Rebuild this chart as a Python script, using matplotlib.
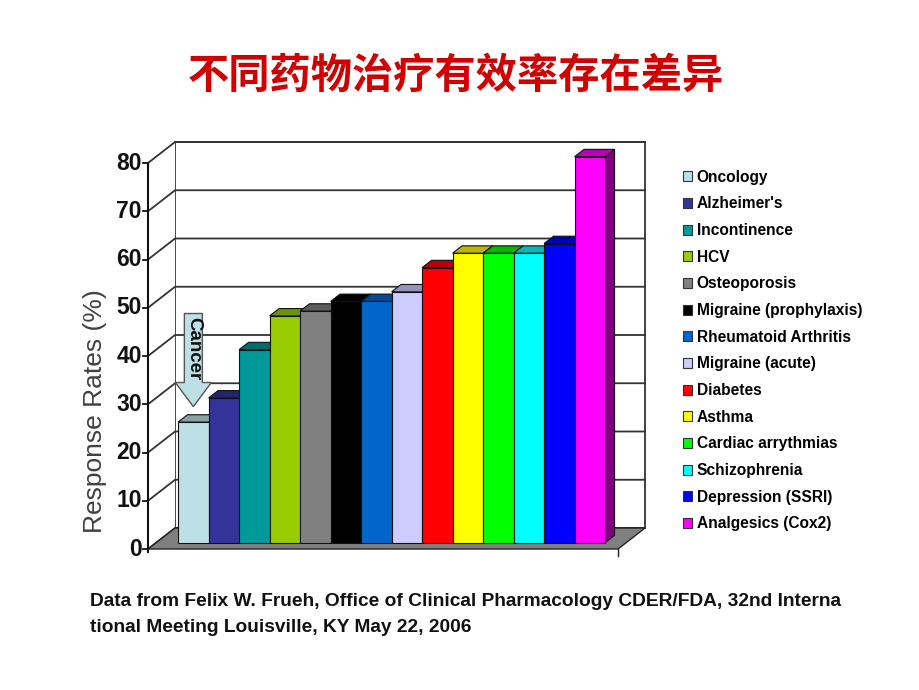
import numpy as np
import matplotlib
matplotlib.use("Agg")
import matplotlib.pyplot as plt
from matplotlib.patches import Polygon, Patch, FancyArrow
from matplotlib import font_manager
from matplotlib.colors import to_rgb

categories = ["Oncology", "Alzheimer's", "Incontinence", "HCV", "Osteoporosis",
              "Migraine (prophylaxis)", "Rheumatoid Arthritis", "Migraine (acute)",
              "Diabetes", "Asthma", "Cardiac arrythmias", "Schizophrenia",
              "Depression (SSRI)", "Analgesics (Cox2)"]
response = [25, 30, 40, 47, 48, 50, 50, 52, 57, 60, 60, 60, 62, 80]
colors = ["#BDE0E6", "#333399", "#009999", "#99CC00", "#808080", "#000000",
          "#0066CC", "#CCCCFF", "#FF0000", "#FFFF00", "#00FF00", "#00FFFF",
          "#0000FF", "#FF00FF"]
yticks = list(range(0, 81, 10))

title = "不同药物治疗有效率存在差异"
ylabel = "Response Rates (%)"
note1 = "Data from Felix W. Frueh, Office of Clinical Pharmacology CDER/FDA, 32nd Interna"
note2 = "tional Meeting Louisville, KY May 22, 2006"

names = {f.name for f in font_manager.fontManager.ttflist}
narrow = "Liberation Sans Narrow" if "Liberation Sans Narrow" in names else "Liberation Sans"
note_size = 17 if narrow == "Liberation Sans Narrow" else 13.8

W, H = 920, 690
fig = plt.figure(figsize=(W / 100, H / 100), dpi=100)

# pixel scale of the chart: one bar slot = 30.5 px, one percent = 4.825 px
px_x, px_y = 30.5, 4.825
x0_px, y0_px = 170, 549
xlim = (-2.5, 16.5)
ylim = (-3, 85)
left = x0_px + xlim[0] * px_x
right = x0_px + xlim[1] * px_x
bottom = y0_px - ylim[0] * px_y
top = y0_px - ylim[1] * px_y
ax = fig.add_axes([left / W, 1 - bottom / H, (right - left) / W, (bottom - top) / H])
ax.set_xlim(*xlim)
ax.set_ylim(*ylim)
ax.axis("off")

# depth of the 3d box
DX, DY = 27 / px_x, 21 / px_y
xa = -0.72
xe = len(categories) + 0.69
zf, zb = 0.30, 0.65
ymax = yticks[-1]


def proj(x, v, z):
    return (x + z * DX, v + z * DY)


def shade(c, f):
    r, g, b = to_rgb(c)
    return (r * f, g * f, b * f)


# back wall and left wall
ax.add_patch(Polygon([proj(xa, 0, 1), proj(xe, 0, 1), proj(xe, ymax, 1), proj(xa, ymax, 1)],
                     closed=True, facecolor="white", edgecolor="#333333", lw=1.3, zorder=1))
ax.add_patch(Polygon([proj(xa, 0, 0), proj(xa, 0, 1), proj(xa, ymax, 1), proj(xa, ymax, 0)],
                     closed=True, facecolor="white", edgecolor="none", zorder=1))

for v in yticks:
    pts = [proj(xa, v, 0), proj(xa, v, 1), proj(xe, v, 1)]
    ax.plot([p[0] for p in pts], [p[1] for p in pts], color="#333333", lw=1.3, zorder=2)

# floor
ax.add_patch(Polygon([proj(xa, 0, 0), proj(xe, 0, 0), proj(xe, 0, 1), proj(xa, 0, 1)],
                     closed=True, facecolor="#808080", edgecolor="#222222", lw=1.0, zorder=3))
fx, fy = proj(xe, 0, 0)
ax.plot([fx, fx], [fy, fy - 1.5], color="#222222", lw=1.0, zorder=3)

# bars
for i, (v, c) in enumerate(zip(response, colors)):
    side = [proj(i + 1, 0, zf), proj(i + 1, 0, zb), proj(i + 1, v, zb), proj(i + 1, v, zf)]
    topf = [proj(i, v, zf), proj(i + 1, v, zf), proj(i + 1, v, zb), proj(i, v, zb)]
    front = [proj(i, 0, zf), proj(i + 1, 0, zf), proj(i + 1, v, zf), proj(i, v, zf)]
    ax.add_patch(Polygon(side, closed=True, facecolor=shade(c, 0.5), edgecolor="#111111",
                         lw=0.8, zorder=4))
    ax.add_patch(Polygon(front, closed=True, facecolor=c, edgecolor="#111111", lw=0.8, zorder=4))
    ax.add_patch(Polygon(topf, closed=True, facecolor=shade(c, 0.72), edgecolor="#111111",
                         lw=0.8, zorder=4))

# front axis, ticks and labels
ax.plot([xa, xa], [-0.6, ymax], color="#111111", lw=1.5, zorder=5)
for v in yticks:
    ax.plot([xa - 0.18, xa], [v, v], color="#111111", lw=1.3, zorder=5)
    ax.text(xa - 0.2, v, str(v), ha="right", va="center", fontsize=16.5,
            fontweight="bold", family="Liberation Sans", color="#111111", zorder=5)

# "Cancer" arrow over the oncology bar
ax_x, ay_top = proj(0.5, 47.5, zf)
_, ay_tip = proj(0.5, 28.2, zf)
ax.add_patch(FancyArrow(ax_x, ay_top, 0, ay_tip - ay_top, width=0.59, head_width=1.18,
                        head_length=5.0, length_includes_head=True,
                        facecolor="#BDE0E6", edgecolor="#555555", lw=1.0, zorder=6))
tx, ty = proj(0.5, 40.3, zf)
ax.text(tx, ty, "Cancer", rotation=-90, ha="center", va="center", fontsize=13.5,
        fontweight="bold", family="Liberation Sans", color="#111111", zorder=7)

# legend
handles = [Patch(facecolor=c, edgecolor="#333333", lw=0.8) for c in colors]
fig.legend(handles, categories, loc="upper left", bbox_to_anchor=(675 / W, 1 - 162 / H),
           frameon=False, borderpad=0, handlelength=0.6, handleheight=0.6,
           handletextpad=0.3, labelspacing=0.75,
           prop={"family": "Liberation Sans", "weight": "bold", "size": 11.2})

fig.text(456 / W, 1 - 76 / H, title, ha="center", va="center", fontsize=29.7,
         fontweight="bold", color="#D00000", family=["Noto Sans CJK SC", "DejaVu Sans"])
fig.text(95 / W, 1 - 411 / H, ylabel, rotation=90, ha="center", va="center",
         fontsize=19, color="#404040", family="Liberation Sans")
fig.text(90 / W, 1 - 601 / H, note1, ha="left", va="center", fontsize=note_size,
         fontweight="bold", family=narrow, color="#111111")
fig.text(90 / W, 1 - 627 / H, note2, ha="left", va="center", fontsize=note_size,
         fontweight="bold", family=narrow, color="#111111")

fig.savefig("out.png", dpi=100)
